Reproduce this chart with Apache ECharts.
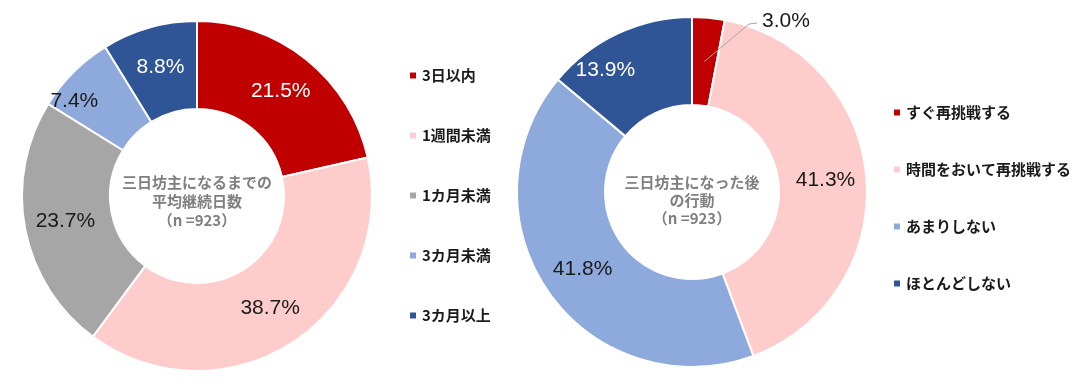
<!DOCTYPE html>
<html>
<head>
<meta charset="utf-8">
<script src="https://cdn.jsdelivr.net/npm/echarts@6/dist/echarts.min.js"></script>
<style>
  html, body { margin: 0; padding: 0; background: #ffffff; }
  #chart { width: 1091px; height: 389px; }
</style>
</head>
<body>
<div id="chart"></div>
<script>
// ---- data ----
const leftCategories = ['3日以内', '1週間未満', '1カ月未満', '3カ月未満', '3カ月以上'];
const leftValues = [21.5, 38.7, 23.7, 7.4, 8.8];
const rightCategories = ['すぐ再挑戦する', '時間をおいて再挑戦する', 'あまりしない', 'ほとんどしない'];
const rightValues = [3.0, 41.3, 41.8, 13.9];
const leftTitle = '三日坊主になるまでの\n平均継続日数\n（n =923）';
const rightTitle = '三日坊主になった後\nの行動\n（n =923）';

// ---- styles ----
const leftColors = ['#C00000', '#FFCCCC', '#A6A6A6', '#8EA9DB', '#2F5597'];
const leftLabelColors = ['#ffffff', '#1a1a1a', '#1a1a1a', '#1a1a1a', '#ffffff'];
const rightColors = ['#C00000', '#FFCCCC', '#8EA9DB', '#2F5597'];
const rightLabelColors = ['#1a1a1a', '#1a1a1a', '#1a1a1a', '#ffffff'];

const leftCenter = [197, 196];
const rightCenter = [692, 192];
const innerR = 87, outerR = 175;

const labelFont = "'Liberation Sans', 'Noto Sans CJK JP', sans-serif";
const cjkFont = "'Noto Sans CJK JP', sans-serif";

function buildData(cats, vals, colors, labelColors) {
  return cats.map((c, i) => ({
    name: c,
    value: vals[i],
    itemStyle: { color: colors[i] },
    label: { color: labelColors[i] }
  }));
}

const rightData = buildData(rightCategories, rightValues, rightColors, rightLabelColors);
rightData[0].label = { color: '#1a1a1a', position: 'outside' };
rightData[0].labelLine = { show: false };

// leader line start: middle of the first right-hand slice, at mid ring radius
const rightTotal = rightValues.reduce((a, b) => a + b, 0);
const midFrac = (rightValues[0] / rightTotal) / 2;
const midAng = Math.PI / 2 - midFrac * 2 * Math.PI;
const midR = (innerR + outerR) / 2;
const leaderStart = [rightCenter[0] + midR * Math.cos(midAng), rightCenter[1] - midR * Math.sin(midAng)];
const smallLabelAnchor = [762, 21];

const chart = echarts.init(document.getElementById('chart'), null, { renderer: 'canvas' });

const baseSeries = {
  type: 'pie',
  radius: [innerR, outerR],
  startAngle: 90,
  clockwise: true,
  avoidLabelOverlap: false,
  animation: false,
  silent: true,
  itemStyle: { borderColor: '#ffffff', borderWidth: 2 },
  label: {
    show: true,
    position: 'inside',
    fontFamily: labelFont,
    fontSize: 21,
    formatter: p => p.value.toFixed(1) + '%'
  },
  labelLine: { show: false },
  emphasis: { disabled: true }
};

chart.setOption({
  backgroundColor: '#ffffff',
  animation: false,
  legend: [
    {
      data: leftCategories,
      orient: 'vertical',
      left: 403,
      top: 63,
      itemGap: 45,
      icon: 'rect',
      itemWidth: 8,
      itemHeight: 8,
      selectedMode: false,
      textStyle: { fontFamily: cjkFont, fontSize: 15, fontWeight: 'bold', color: '#1a1a1a' }
    },
    {
      data: rightCategories,
      orient: 'vertical',
      left: 887,
      top: 100,
      itemGap: 42,
      icon: 'rect',
      itemWidth: 8,
      itemHeight: 8,
      selectedMode: false,
      textStyle: { fontFamily: cjkFont, fontSize: 15, fontWeight: 'bold', color: '#1a1a1a' }
    }
  ],
  graphic: [
    {
      type: 'text',
      x: leftCenter[0],
      y: 201,
      silent: true,
      style: {
        text: leftTitle,
        align: 'center',
        verticalAlign: 'middle',
        fill: '#7F7F7F',
        fontFamily: cjkFont,
        fontSize: 15,
        fontWeight: 'bold',
        lineHeight: 19
      }
    },
    {
      type: 'text',
      x: rightCenter[0],
      y: 200,
      silent: true,
      style: {
        text: rightTitle,
        align: 'center',
        verticalAlign: 'middle',
        fill: '#7F7F7F',
        fontFamily: cjkFont,
        fontSize: 15,
        fontWeight: 'bold',
        lineHeight: 18
      }
    },
    {
      type: 'polyline',
      silent: true,
      z: 100,
      shape: {
        points: [leaderStart, [smallLabelAnchor[0] - 13, smallLabelAnchor[1] + 3], [smallLabelAnchor[0] - 5, smallLabelAnchor[1] + 2]]
      },
      style: { stroke: '#A6A6A6', lineWidth: 1, fill: null }
    }
  ],
  series: [
    Object.assign({}, baseSeries, {
      name: 'left',
      center: leftCenter,
      data: buildData(leftCategories, leftValues, leftColors, leftLabelColors),
      labelLayout: function (p) {
        if (p.dataIndex === 3) return { dx: -28 };
      }
    }),
    Object.assign({}, baseSeries, {
      name: 'right',
      center: rightCenter,
      data: rightData,
      labelLayout: function (p) {
        if (p.dataIndex === 0) {
          return {
            x: smallLabelAnchor[0],
            y: smallLabelAnchor[1],
            align: 'left',
            verticalAlign: 'middle'
          };
        }
        if (p.dataIndex === 3) return { dx: -30 };
      }
    })
  ]
});
</script>
</body>
</html>
